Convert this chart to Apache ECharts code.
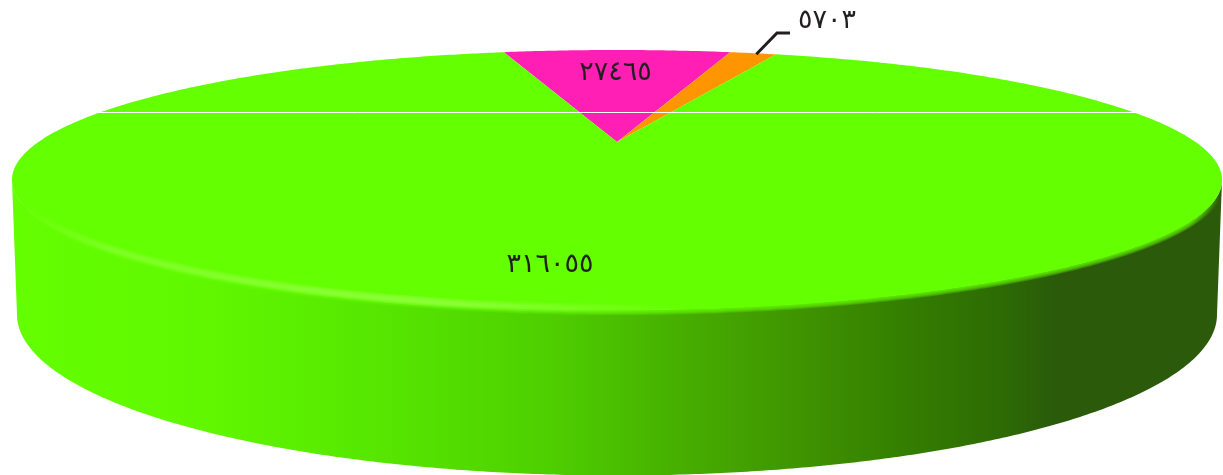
<!DOCTYPE html>
<html>
<head>
<meta charset="utf-8">
<style>
  html, body { margin: 0; padding: 0; background: #fff; }
  #chart-pie { width: 1223px; height: 475px; overflow: hidden; }
</style>
<script src="https://cdn.jsdelivr.net/npm/echarts@6/dist/echarts.min.js"></script>
</head>
<body>
<div id="chart-pie"></div>
<script>
const sliceNames = ['pink', 'orange', 'green'];
const sliceValues = [27465, 5703, 316055];
const sliceLabels = ['٢٧٤٦٥', '٥٧٠٣', '٣١٦٠٥٥'];
const sliceColors = ['#ff1fb4', '#ff9500', '#64ff00'];

// Pie tilt: the centre sits above the middle of the top face
const startAngle = -14.15;
const cx = 617, cy = 142;
const scaleX = 578.6, scaleY = 118.9, tilt = 0.2923;
// The back of the rim is a little flatter than a true ellipse
const backWiden = 0.03;
// Bottom edge of the side wall
const baseCy = 314.5, baseRx = 600, baseRy = 161;
// Where each label goes
const labelSpots = [[615.5, 73], [827, 21], [550, 265]];

const total = sliceValues.reduce((a, b) => a + b, 0);
const rad = (deg) => deg * Math.PI / 180;

// Clockwise degrees from the back of the pie, radius 0..1, to pixels
function project(deg, r) {
    const Y = r * Math.cos(rad(deg));
    const widen = Y > 0 ? 1 + backWiden * Math.pow(Y, 4) : 1;
    const X = r * Math.sin(rad(deg)) * widen;
    const w = 1 + tilt * Y;
    return [cx + scaleX * X / w, cy - scaleY * Y / w];
}

function arc(from, to) {
    const pts = [];
    const steps = Math.ceil(Math.abs(to - from) * 2);
    for (let i = 0; i <= steps; i++) {
        pts.push(project(from + (to - from) * i / steps, 1));
    }
    return pts;
}

// The part of the rim that touches the wall, left to right
const frontFrom = 360 - Math.acos(-tilt) * 180 / Math.PI;
const frontTo = Math.acos(-tilt) * 180 / Math.PI;

function basePoints() {
    const pts = [];
    for (let d = 90; d <= 270; d += 0.5) {
        pts.push([cx + baseRx * Math.sin(rad(d)), baseCy - baseRy * Math.cos(rad(d))]);
    }
    return pts;
}

function gradient(stops) {
    return new echarts.graphic.LinearGradient(0, 0, 1223, 0, stops.map(([x, color]) => ({
        offset: x / 1223,
        color
    })), true);
}

function renderSide(params, api) {
    const points = arc(frontFrom, frontTo).concat(basePoints());
    return {
        type: 'polygon',
        shape: { points },
        style: {
            fill: gradient([
                [0, '#64ff00'], [200, '#60f800'], [400, '#55e400'], [550, '#4ecf00'],
                [700, '#45aa00'], [800, '#3f9400'], [900, '#347f00'], [1000, '#2d6b04'],
                [1056, '#2a5a0a'], [1223, '#2a5a0a']
            ])
        }
    };
}

function renderSlice(params, api) {
    const from = startAngle + api.value(1) / total * 360;
    const to = from + api.value(0) / total * 360;
    const i = params.dataIndex;
    const [lx, ly] = labelSpots[i];
    const children = [{
        type: 'polygon',
        shape: { points: [[cx, cy]].concat(arc(from, to)) },
        style: { fill: sliceColors[i] }
    }, {
        type: 'text',
        z2: 5,
        style: {
            x: lx, y: ly,
            text: sliceLabels[i],
            fill: '#231f20',
            font: '27px "DejaVu Sans"',
            align: 'center',
            verticalAlign: 'middle'
        }
    }];
    // The small slice gets its label outside with a leader line
    if (i === 1) {
        const rim = project((from + to) / 2, 1);
        children.push({
            type: 'polyline',
            z2: 5,
            shape: { points: [[rim[0] + 3, rim[1] + 1], [777, 33], [790, 33]] },
            style: { stroke: '#231f20', lineWidth: 3, fill: null }
        });
    }
    return { type: 'group', children };
}

function renderRim(params, api) {
    const front = arc(frontFrom + 2, frontTo - 2);
    const children = [];
    // Soft edge between the top face and the wall
    [10, 8, 6, 4, 2].forEach((lineWidth) => {
        children.push({
            type: 'polyline',
            shape: { points: front },
            style: {
                fill: null,
                lineWidth,
                stroke: gradient([
                    [12, 'rgba(100,255,0,0)'], [40, 'rgba(100,255,0,0.28)'],
                    [1190, 'rgba(100,255,0,0.28)'], [1220, 'rgba(100,255,0,0)']
                ])
            }
        });
    });
    // Light band on the left of the rim
    [9, 6, 3].forEach((lineWidth) => {
        children.push({
            type: 'polyline',
            shape: { points: front.map((p) => [p[0], p[1] - 2]) },
            style: {
                fill: null,
                lineWidth,
                stroke: gradient([
                    [25, 'rgba(150,255,70,0)'], [110, 'rgba(150,255,70,0.2)'],
                    [420, 'rgba(150,255,70,0.4)'], [680, 'rgba(150,255,70,0)'],
                    [1223, 'rgba(150,255,70,0)']
                ])
            }
        });
    });
    // Thin white line across the back of the top face
    children.push({
        type: 'line',
        shape: { x1: 98, y1: 112.5, x2: 1136, y2: 112.5 },
        style: { stroke: '#fff', lineWidth: 1 }
    });
    return { type: 'group', children };
}

let running = 0;
const sliceRows = sliceValues.map((value) => {
    const row = [value, running];
    running += value;
    return row;
});

const chart = echarts.init(document.getElementById('chart-pie'));
chart.setOption({
    animation: false,
    series: [
        { type: 'custom', coordinateSystem: 'none', silent: true, renderItem: renderSide, data: [[total]] },
        { type: 'custom', coordinateSystem: 'none', silent: true, renderItem: renderSlice, data: sliceRows },
        { type: 'custom', coordinateSystem: 'none', silent: true, renderItem: renderRim, data: [[total]] }
    ]
});
</script>
</body>
</html>
